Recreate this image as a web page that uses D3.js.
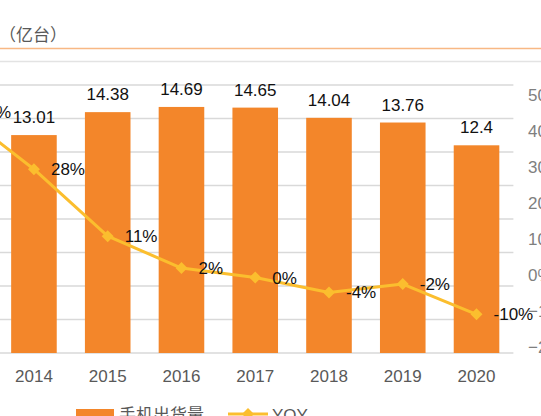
<!DOCTYPE html>
<html>
<head>
<meta charset="utf-8">
<script src="https://cdn.jsdelivr.net/npm/d3@7"></script>
<style>
  body { margin: 0; background: #fff; }
  svg { display: block; }
  text { font-family: "Liberation Sans", Arial, sans-serif; }
  .cjk { font-family: "Noto Sans CJK SC", sans-serif; }
</style>
</head>
<body>
<div id="chart"></div>
<script>
// data (2013 sits mostly off the left edge)
var years = ["2013", "2014", "2015", "2016", "2017", "2018", "2019", "2020"];
var shipments = [10.16, 13.01, 14.38, 14.69, 14.65, 14.04, 13.76, 12.4];
var yoy = [0.43, 0.28, 0.105, 0.022, -0.003, -0.042, -0.02, -0.099];
var yoyLabels = ["43%", "28%", "11%", "2%", "0%", "-4%", "-2%", "-10%"];
var leftTicks = [0, 2, 4, 6, 8, 10, 12, 14, 16];
var rightTicks = [-0.2, -0.1, 0, 0.1, 0.2, 0.3, 0.4, 0.5];

var svgWidth = 541;
var svgHeight = 416;

var barColor = "#F3862A";
var lineColor = "#FBBE2E";
var gridColor = "#D9D9D9";

var svg = d3.select("#chart")
    .append("svg")
    .attr("width", svgWidth)
    .attr("height", svgHeight);

// plot area (the picture is a crop, so it starts left of the frame)
var plotLeft = -76.7, plotRight = 513.4;
var plotTop = 85, plotBottom = 353;

var x = d3.scaleBand()
    .domain(years)
    .range([plotLeft, plotRight])
    .paddingInner(0.382)
    .paddingOuter(0.191);

var yLeft = d3.scaleLinear().domain([0, 16]).range([plotBottom, plotTop]);
var yRight = d3.scaleLinear().domain([-0.2, 0.5]).range([plotBottom, plotTop]);
// right-hand tick text sits a little tighter than the grid in the original
var yRightText = d3.scaleLinear().domain([-0.2, 0.5]).range([347, 95]);

// title and header lines
svg.append("text")
    .attr("class", "cjk")
    .attr("x", 67)
    .attr("y", 41)
    .attr("text-anchor", "end")
    .attr("fill", "#595959")
    .style("font-size", "17px")
    .text("手机出货量（亿台）");

svg.append("line")
    .attr("x1", 0).attr("x2", svgWidth)
    .attr("y1", 48.5).attr("y2", 48.5)
    .attr("stroke", "#F8B884")
    .attr("stroke-width", 1.5);

svg.append("line")
    .attr("x1", 0).attr("x2", svgWidth)
    .attr("y1", 61.5).attr("y2", 61.5)
    .attr("stroke", "#E3E3E3")
    .attr("stroke-width", 1.5);

// gridlines
svg.append("g")
    .selectAll("line")
    .data(leftTicks)
    .enter()
    .append("line")
    .attr("x1", 0)
    .attr("x2", plotRight)
    .attr("y1", d => yLeft(d))
    .attr("y2", d => yLeft(d))
    .attr("stroke", gridColor)
    .attr("stroke-width", 1.5);

// bars
svg.append("g")
    .selectAll("rect")
    .data(shipments)
    .enter()
    .append("rect")
    .attr("x", (d, i) => x(years[i]))
    .attr("width", x.bandwidth())
    .attr("y", d => yLeft(d))
    .attr("height", d => yLeft(0) - yLeft(d))
    .attr("fill", barColor);

// bar labels
svg.append("g")
    .selectAll("text")
    .data(shipments)
    .enter()
    .append("text")
    .attr("x", (d, i) => x(years[i]) + x.bandwidth() / 2)
    .attr("y", d => yLeft(d) - 12)
    .attr("text-anchor", "middle")
    .attr("fill", "#111")
    .style("font-size", "17px")
    .text(d => d);

// x axis labels
svg.append("g")
    .selectAll("text")
    .data(years)
    .enter()
    .append("text")
    .attr("x", d => x(d) + x.bandwidth() / 2)
    .attr("y", 382)
    .attr("text-anchor", "middle")
    .attr("fill", "#595959")
    .style("font-size", "17px")
    .text(d => d);

// right axis labels
svg.append("g")
    .selectAll("text")
    .data(rightTicks)
    .enter()
    .append("text")
    .attr("x", 528)
    .attr("y", d => yRightText(d))
    .attr("dy", "0.35em")
    .attr("fill", "#7F7F7F")
    .style("font-size", "17px")
    .text(d => d3.format(".0%")(d));

// YOY line
var cx = (d, i) => x(years[i]) + x.bandwidth() / 2;
var line = d3.line()
    .x(cx)
    .y(d => yRight(d));

svg.append("path")
    .datum(yoy)
    .attr("d", line)
    .attr("fill", "none")
    .attr("stroke", lineColor)
    .attr("stroke-width", 3)
    .attr("stroke-linejoin", "round");

var diamond = d3.symbol().type(d3.symbolSquare).size(72);

svg.append("g")
    .selectAll("path")
    .data(yoy)
    .enter()
    .append("path")
    .attr("d", diamond)
    .attr("transform", (d, i) => `translate(${cx(d, i)},${yRight(d)}) rotate(45)`)
    .attr("fill", lineColor);

svg.append("g")
    .selectAll("text")
    .data(yoy)
    .enter()
    .append("text")
    .attr("x", (d, i) => cx(d, i) + 17)
    .attr("y", d => yRight(d))
    .attr("dy", "0.35em")
    .attr("fill", "#111")
    .style("font-size", "17px")
    .text((d, i) => yoyLabels[i]);

// legend (cut by the bottom edge)
var legend = svg.append("g");

legend.append("rect")
    .attr("x", 76)
    .attr("y", 409)
    .attr("width", 38)
    .attr("height", 12)
    .attr("fill", barColor);

legend.append("text")
    .attr("class", "cjk")
    .attr("x", 119)
    .attr("y", 421)
    .attr("fill", "#595959")
    .style("font-size", "17px")
    .text("手机出货量");

legend.append("line")
    .attr("x1", 228).attr("x2", 268)
    .attr("y1", 414).attr("y2", 414)
    .attr("stroke", lineColor)
    .attr("stroke-width", 3);

legend.append("path")
    .attr("d", diamond)
    .attr("transform", "translate(248,414) rotate(45)")
    .attr("fill", lineColor);

legend.append("text")
    .attr("x", 272)
    .attr("y", 421)
    .attr("fill", "#595959")
    .style("font-size", "17px")
    .text("YOY");
</script>
</body>
</html>
